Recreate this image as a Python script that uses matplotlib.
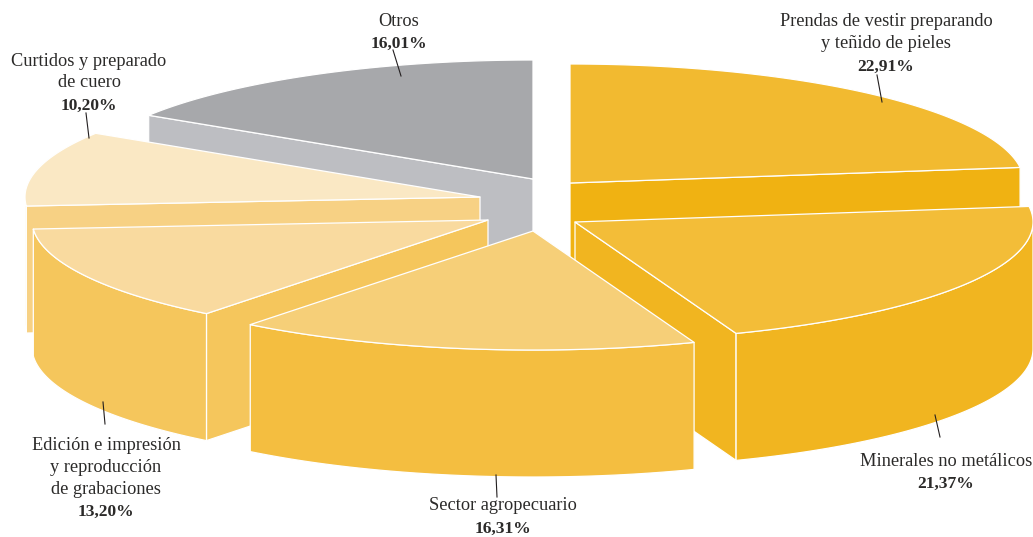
import numpy as np
import matplotlib
matplotlib.use("Agg")
import matplotlib.pyplot as plt
from matplotlib.patches import Polygon

plt.rcParams['font.family'] = ['Liberation Serif', 'DejaVu Serif']

W, H = 1033, 537

# Data, in clockwise order from twelve o'clock
categories = ["Prendas de vestir preparando\ny teñido de pieles", "Minerales no metálicos",
              "Sector agropecuario", "Edición e impresión\ny reproducción\nde grabaciones",
              "Curtidos y preparado\nde cuero", "Otros"]
values = [22.91, 21.37, 16.31, 13.20, 10.20, 16.01]
value_labels = ["22,91%", "21,37%", "16,31%", "13,20%", "10,20%", "16,01%"]

# Styling
top_colors = ["#F2BA30", "#F3BD38", "#F6CF78", "#F9DA9F", "#FAE8C4", "#A7A8AB"]
side_colors = ["#F0B212", "#F1B520", "#F4BE40", "#F5C65C", "#F7D184", "#BDBEC2"]
apex_x = [570, 575, 533, 488, 480, 533]
apex_y = [183, 222, 231, 220, 197, 179]
radius_x = [454, 458, 458, 456, 455, 455]
paint_order = [0, 5, 4, 3, 1, 2]
label_x = [886, 946, 503, 106, 89, 399]
label_y = [22, 461, 506, 446, 61, 21]
tick_from = [(882, 102), (940, 437), (497, 497), (105, 424), (89, 138), (401, 76)]
tick_to = [(877, 75), (935, 415), (496, 475), (103, 402), (86, 113), (393, 50)]

RY, DEPTH = 119, 127
LINE_STEP = 21.6
VALUE_GAP = 1.5

fig = plt.figure(figsize=(W / 100, H / 100), dpi=100)
ax = fig.add_axes([0, 0, 1, 1])
ax.set_xlim(0, W)
ax.set_ylim(H, 0)
ax.axis("off")

edges = np.concatenate([[0], np.cumsum(values)]) / np.sum(values) * 2 * np.pi


def rim(i, t):
    return np.column_stack([apex_x[i] + radius_x[i] * np.sin(t), apex_y[i] - RY * np.cos(t)])


for i in paint_order:
    t = np.linspace(edges[i], edges[i + 1], 200)
    arc = rim(i, t)
    apex = np.array([[apex_x[i], apex_y[i]]])
    down = np.array([0, DEPTH])
    style = dict(edgecolor="white", linewidth=0.9, joinstyle="round")
    # radial walls, only those that face the viewer
    walls = []
    if np.sin(edges[i]) < -1e-9:
        walls.append(arc[0])
    if np.sin(edges[i + 1]) > 1e-9:
        walls.append(arc[-1])
    for end in walls:
        pts = np.array([apex[0], end, end + down, apex[0] + down])
        ax.add_patch(Polygon(pts, closed=True, facecolor=side_colors[i], **style))
    # outer wall, facing the viewer
    vis = arc[np.cos(t) <= 0.0]
    if len(vis) > 1:
        pts = np.vstack([vis, (vis + down)[::-1]])
        ax.add_patch(Polygon(pts, closed=True, facecolor=side_colors[i], **style))
    # top
    ax.add_patch(Polygon(np.vstack([apex, arc]), closed=True, facecolor=top_colors[i], **style))

for i, cat in enumerate(categories):
    lines = cat.split("\n")
    for j, line in enumerate(lines):
        ax.text(label_x[i], label_y[i] + j * LINE_STEP, line, ha="center", va="center",
                fontsize=13.2, color="#2B2A29")
    ax.text(label_x[i], label_y[i] + len(lines) * LINE_STEP + VALUE_GAP, value_labels[i], ha="center",
            va="center", fontsize=12.6, fontweight="bold", color="#2B2A29")
    ax.plot([tick_from[i][0], tick_to[i][0]], [tick_from[i][1], tick_to[i][1]], color="#231F20", lw=0.8)

fig.savefig("out.png", dpi=100)
